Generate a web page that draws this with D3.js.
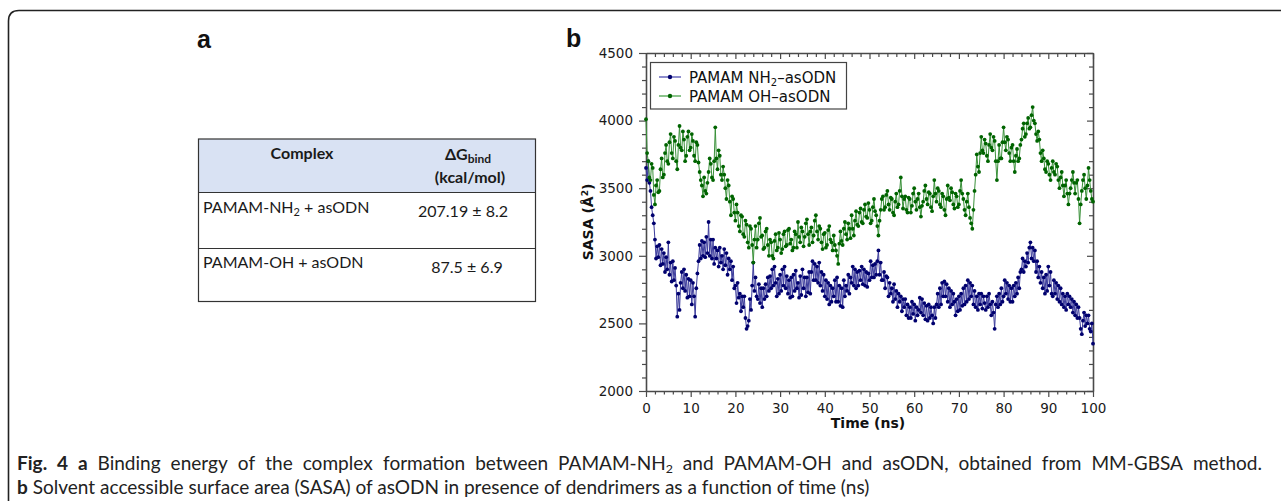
<!DOCTYPE html>
<html><head><meta charset="utf-8">
<script src="https://cdn.jsdelivr.net/npm/d3@7"></script>
<style>html,body{margin:0;padding:0;background:#fff;overflow:hidden}</style>
</head><body>
<svg id="c" width="1281" height="501" xmlns="http://www.w3.org/2000/svg"></svg>
<script>
// ---------------- data ----------------
const xTicks = [0, 10, 20, 30, 40, 50, 60, 70, 80, 90, 100];
const yTicks = [2000, 2500, 3000, 3500, 4000, 4500];
const seriesNames = ["PAMAM NH", "PAMAM OH–asODN"];
const timeStep = 0.25; // ns between plotted frames
// SASA (Å²) of asODN with PAMAM-NH2, every 0.25 ns from 0 to 100 ns (one row of 4 per ns)
const sasaNH2 = [
3650,3560,3700,3540, 3480,3360,3300,3240, 3120,2980,3070,2990, 3080,2930,3050,2940, 3020,2880,2990,2900,
3100,2860,2950,2810, 2960,2820,2910,2780, 2550,2720,2600,2800, 2880,2760,2900,2740, 2860,2690,2830,2700,
2820,2640,2800,2700, 2550,2760,2870,2960, 3080,2980,3110,3000, 3100,2990,3140,3020, 3250,3000,3120,2980,
3120,2940,3060,2980, 3040,2920,3060,2950, 3000,2900,3050,2930, 3020,2860,2980,2900, 2960,2820,2920,2760,
2780,2650,2800,2690, 2720,2590,2700,2620, 2700,2540,2460,2480, 2520,2680,2600,2780, 2950,2740,2840,2700,
2680,2790,2650,2760, 2620,2760,2680,2790, 2700,2840,2740,2850, 2760,2900,2780,2920, 2800,2700,2830,2720,
2860,2740,2900,2780, 2920,2760,2850,2720, 2820,2690,2840,2700, 2860,2740,2890,2760, 2800,2690,2850,2710,
2900,2760,2840,2700, 2840,2730,2880,2720, 2880,2960,2820,2940, 2820,2920,2800,2950, 2780,2880,2740,2860,
2700,2820,2680,2800, 2640,2780,2660,2760, 2700,2820,2660,2840, 2660,2780,2630,2760, 2620,2820,2700,2780,
2740,2860,2720,2840, 2800,2920,2780,2900, 2760,2880,2780,2890, 2820,2920,2790,2900, 2780,2880,2770,2870,
2820,2960,2840,2930, 2840,2940,2860,2960, 3040,2860,2950,2820, 2820,2880,2760,2850, 2840,2700,2800,2720,
2760,2660,2790,2680, 2740,2620,2720,2660, 2700,2590,2680,2620, 2680,2560,2640,2540, 2620,2540,2660,2570,
2640,2520,2620,2560, 2600,2690,2580,2680, 2560,2650,2530,2630, 2520,2640,2540,2620, 2560,2500,2620,2540,
2640,2720,2620,2760, 2640,2800,2700,2810, 2700,2790,2660,2760, 2620,2740,2640,2720, 2660,2560,2680,2590,
2700,2600,2720,2630, 2760,2640,2780,2660, 2820,2680,2800,2700, 2780,2640,2740,2620, 2700,2600,2720,2640,
2720,2610,2700,2650, 2600,2700,2620,2720, 2640,2560,2660,2580, 2460,2640,2700,2620, 2720,2640,2760,2660,
2700,2820,2720,2800, 2680,2780,2660,2760, 2660,2780,2700,2800, 2720,2840,2760,2880, 2900,2980,2880,2960,
2920,3020,2950,3060, 3100,2980,3060,2960, 3040,2880,2960,2840, 2920,2800,2880,2760, 2840,2720,2860,2740,
2920,2780,2880,2720, 2700,2820,2720,2800, 2680,2780,2660,2760, 2640,2720,2620,2700, 2600,2720,2640,2700,
2620,2680,2580,2660, 2560,2640,2540,2620, 2540,2460,2420,2520, 2580,2480,2560,2500, 2560,2460,2440,2500,
2350];
// SASA (Å²) of asODN with PAMAM-OH, every 0.25 ns from 0 to 100 ns (one row of 4 per ns)
const sasaOH = [
4010,3760,3700,3580, 3560,3680,3650,3450, 3380,3520,3560,3470, 3480,3640,3720,3580, 3600,3760,3820,3700,
3680,3840,3900,3760, 3720,3880,3850,3700, 3640,3820,3960,3800, 3780,3920,3860,3700, 3740,3880,3920,3780,
3800,3900,3850,3740, 3700,3840,3820,3690, 3620,3560,3520,3440, 3580,3480,3460,3540, 3620,3720,3680,3580,
3560,3700,3950,3720, 3640,3780,3740,3600, 3560,3660,3600,3500, 3420,3560,3520,3400, 3300,3440,3420,3320,
3260,3380,3320,3220, 3180,3300,3290,3160, 3140,3260,3230,3100, 3060,3220,3200,3080, 2950,3120,3220,3060,
3120,3240,3280,3140, 3150,3050,3060,3180, 3200,3080,3000,3120, 3100,3000,2980,3110, 3160,3040,3060,3170,
3120,3020,3050,3160, 3180,3070,3080,3190, 3200,3090,3120,3040, 3060,3180,3160,3060, 3250,3140,3100,3210,
3180,3070,3140,3240, 3270,3160,3080,3180, 3210,3100,3150,3260, 3300,3180,3120,3220, 3200,3100,3050,3160,
3170,3060,3080,3190, 3220,3120,3100,3040, 3150,3080,3040,3000, 2940,3090,3180,3110, 3080,3200,3250,3160,
3120,3240,3200,3130, 3300,3200,3150,3260, 3330,3230,3220,3320, 3350,3250,3240,3340, 3380,3290,3280,3390,
3340,3240,3260,3360, 3420,3330,3300,3220, 3150,3260,3340,3420, 3440,3340,3360,3450, 3480,3380,3340,3430,
3420,3320,3300,3400, 3460,3360,3380,3480, 3580,3440,3350,3420, 3440,3340,3320,3430, 3420,3320,3370,3460,
3500,3400,3340,3420, 3460,3360,3290,3370, 3400,3480,3520,3420, 3380,3470,3460,3360, 3330,3440,3560,3460,
3400,3500,3480,3380, 3360,3460,3440,3340, 3300,3420,3520,3430, 3410,3500,3470,3380, 3350,3460,3440,3360,
3380,3480,3560,3460, 3420,3340,3300,3400, 3460,3360,3280,3240, 3200,3340,3480,3600, 3750,3660,3620,3760,
3880,3780,3760,3860, 3830,3740,3700,3820, 3900,3800,3780,3880, 3850,3700,3560,3700, 3820,3720,3720,3840,
3950,3840,3780,3880, 3860,3760,3700,3800, 3820,3700,3620,3740, 3790,3700,3720,3820, 3860,3940,3980,3880,
3900,3980,4020,3940, 3950,4040,4100,4000, 3980,3900,3850,3920, 3860,3760,3700,3780, 3720,3640,3620,3700,
3680,3600,3560,3650, 3700,3620,3600,3680, 3660,3560,3500,3580, 3620,3520,3440,3520, 3560,3460,3380,3460,
3500,3560,3620,3540, 3460,3540,3560,3420, 3240,3380,3480,3560, 3600,3500,3420,3520, 3650,3560,3480,3420,
3400];
const tableHeads = ["Complex", "ΔG", "bind", "(kcal/mol)"];
const tableComplexes = [["PAMAM-NH", "2", " + asODN"], ["PAMAM-OH + asODN"]];
const tableDeltaG = ["207.19 ± 8.2", "87.5 ± 6.9"];

// ---------------- drawing ----------------
const svg = d3.select("#c");
const AX = "#4a4a4a";
const FONT = "'DejaVu Sans', Verdana, sans-serif";
const TFONT = "Lato, 'Open Sans', sans-serif";

// outer rounded frame (open to the right and bottom)
svg.append("path")
  .attr("d", "M8.5,520 L8.5,21 Q8.5,10.5 19,10.5 L1300,10.5")
  .attr("fill", "none").attr("stroke", "#222").attr("stroke-width", 1.6);

// panel letters
svg.append("text").attr("x", 197).attr("y", 48).text("a")
  .attr("font-family", "'Liberation Sans', Arial, sans-serif").attr("font-weight", "bold").attr("font-size", 25).attr("fill", "#111");
svg.append("text").attr("x", 566).attr("y", 47).text("b")
  .attr("font-family", "'Liberation Sans', Arial, sans-serif").attr("font-weight", "bold").attr("font-size", 25).attr("fill", "#111");

// ---------- table (panel a) ----------
const T = {x0: 198.5, x1: 535.5, y0: 139, yh: 192.5, y1: 248.5, y2: 301.5};
svg.append("rect").attr("x", T.x0).attr("y", T.y0).attr("width", T.x1 - T.x0).attr("height", T.yh - T.y0)
  .attr("fill", "#d9e2f3");
svg.append("rect").attr("x", T.x0).attr("y", T.y0).attr("width", T.x1 - T.x0).attr("height", T.y2 - T.y0)
  .attr("fill", "none").attr("stroke", "#333").attr("stroke-width", 1.2);
[T.yh, T.y1].forEach(yy => svg.append("line").attr("x1", T.x0).attr("x2", T.x1).attr("y1", yy).attr("y2", yy)
  .attr("stroke", "#333").attr("stroke-width", 1.2));
const tg = svg.append("g").attr("font-family", TFONT).attr("font-size", 16).attr("fill", "#1a1a1a");
tg.append("text").attr("x", 302).attr("y", 159).attr("text-anchor", "middle").attr("font-weight", "bold").text(tableHeads[0]);
const dg = tg.append("text").attr("x", 468).attr("y", 160).attr("text-anchor", "middle").attr("font-weight", "bold");
dg.append("tspan").text(tableHeads[1]);
dg.append("tspan").attr("font-size", 12).attr("dy", 3).text(tableHeads[2]);
tg.append("text").attr("x", 470).attr("y", 183).attr("text-anchor", "middle").attr("font-weight", "bold").text(tableHeads[3]);
const rowBase = [213, 268], valBase = [217, 273], valX = [463, 467];
tableComplexes.forEach((parts, i) => {
  const t = tg.append("text").attr("x", 203).attr("y", rowBase[i]);
  parts.forEach((p, j) => {
    const ts = t.append("tspan").text(p);
    if (parts.length > 1 && j === 1) ts.attr("font-size", 11).attr("dy", 3);
    if (parts.length > 1 && j === 2) ts.attr("dy", -3);
  });
  tg.append("text").attr("x", valX[i]).attr("y", valBase[i]).attr("text-anchor", "middle").text(tableDeltaG[i]);
});

// ---------- chart (panel b) ----------
const x = d3.scaleLinear().domain([0, 100]).range([646, 1093]);
const y = d3.scaleLinear().domain([2000, 4500]).range([391, 53]);
const xMinor = d3.range(0, 101, 2).filter(v => v % 10 !== 0);
const yMinor = d3.range(2000, 4501, 100).filter(v => v % 500 !== 0);

function styleAxis(g) {
  g.select(".domain").attr("stroke", AX).attr("stroke-width", 1.6);
  g.selectAll(".tick line").attr("stroke", AX).attr("stroke-width", 1.2);
  g.selectAll(".tick text").attr("font-family", FONT).attr("font-size", 13.5).attr("fill", "#1a1a1a");
  return g;
}
function addAxis(axis, tf, noDomain) {
  const g = svg.append("g").attr("transform", tf).call(axis);
  styleAxis(g);
  if (noDomain) g.select(".domain").remove();
  return g;
}
const fmt = d3.format("d");
// bottom
addAxis(d3.axisBottom(x).tickValues(xTicks).tickFormat(fmt).tickSize(6).tickPadding(6).tickSizeOuter(0), "translate(0,391)");
addAxis(d3.axisBottom(x).tickValues(xMinor).tickSize(3.5).tickFormat("").tickSizeOuter(0), "translate(0,391)", true);
// left
addAxis(d3.axisLeft(y).tickValues(yTicks).tickFormat(fmt).tickSize(7).tickPadding(6).tickSizeOuter(0), "translate(646,0)");
addAxis(d3.axisLeft(y).tickValues(yMinor).tickSize(4).tickFormat("").tickSizeOuter(0), "translate(646,0)", true);
// top (inward)
addAxis(d3.axisTop(x).tickValues(xTicks).tickSize(-6).tickFormat("").tickSizeOuter(0), "translate(0,53)");
addAxis(d3.axisTop(x).tickValues(xMinor).tickSize(-4).tickFormat("").tickSizeOuter(0), "translate(0,53)", true);
// right (inward)
addAxis(d3.axisRight(y).tickValues(yTicks).tickSize(-6).tickFormat("").tickSizeOuter(0), "translate(1093,0)");
addAxis(d3.axisRight(y).tickValues(yMinor).tickSize(-4).tickFormat("").tickSizeOuter(0), "translate(1093,0)", true);

// axis titles
svg.append("text").attr("x", 868).attr("y", 428).attr("text-anchor", "middle")
  .attr("font-family", FONT).attr("font-weight", "bold").attr("font-size", 14).attr("fill", "#111").text("Time (ns)");
const yt = svg.append("text").attr("transform", "translate(593,222) rotate(-90)").attr("text-anchor", "middle")
  .attr("font-family", FONT).attr("font-weight", "bold").attr("font-size", 14).attr("fill", "#111");
yt.append("tspan").text("SASA (Å");
yt.append("tspan").attr("font-size", 9).attr("dy", -5).text("2");
yt.append("tspan").attr("dy", 5).text(")");

// series
const series = [
  {vals: sasaNH2, line: "#3c3c9c", dot: "#00006e"},
  {vals: sasaOH, line: "#3a913a", dot: "#006400"}
];
const lineGen = d3.line().x((d, i) => x(i * timeStep)).y(d => y(d));
series.forEach(s => {
  const g = svg.append("g");
  g.append("path").attr("d", lineGen(s.vals)).attr("fill", "none").attr("stroke", s.line).attr("stroke-width", 1);
  g.selectAll("circle").data(s.vals).join("circle")
    .attr("cx", (d, i) => x(i * timeStep)).attr("cy", d => y(d)).attr("r", 1.9).attr("fill", s.dot);
});

// legend
const lg = svg.append("g");
lg.append("rect").attr("x", 650.5).attr("y", 62.5).attr("width", 196).attr("height", 46.5)
  .attr("fill", "#fff").attr("stroke", "#444").attr("stroke-width", 1.2);
[{yy: 77, c: series[0]}, {yy: 96, c: series[1]}].forEach((e, i) => {
  lg.append("line").attr("x1", 659).attr("x2", 681).attr("y1", e.yy).attr("y2", e.yy)
    .attr("stroke", i === 0 ? "#5050b0" : "#4ca24c").attr("stroke-width", 1.3);
  lg.append("circle").attr("cx", 670).attr("cy", e.yy).attr("r", 2.2).attr("fill", e.c.dot);
  const t = lg.append("text").attr("x", 689).attr("y", e.yy + 5.5)
    .attr("font-family", FONT).attr("font-size", 15).attr("fill", "#111");
  if (i === 0) {
    t.append("tspan").text(seriesNames[0]);
    t.append("tspan").attr("font-size", 10).attr("dy", 3).text("2");
    t.append("tspan").attr("dy", -3).text("–asODN");
  } else t.text(seriesNames[1]);
});

// ---------- caption ----------
const CF = "Lato, 'Open Sans', sans-serif";
const line1 = [
  [["Fig.", "b"]], [["4", "b"]], [["a", "b"]], [["Binding"]], [["energy"]], [["of"]], [["the"]], [["complex"]],
  [["formation"]], [["between"]], [["PAMAM-NH"], ["2", "sub"]], [["and"]], [["PAMAM-OH"]], [["and"]],
  [["asODN,"]], [["obtained"]], [["from"]], [["MM-GBSA"]], [["method."]]
];
const line2Text = "Solvent accessible surface area (SASA) of asODN in presence of dendrimers as a function of time (ns)";
const cg = svg.append("g").attr("font-family", CF).attr("fill", "#222");
const probe = cg.append("text").attr("font-size", 17);
probe.append("tspan").attr("font-weight", "bold").text("b");
probe.append("tspan").text(" " + line2Text);
const w2 = probe.node().getComputedTextLength();
const fs = 17 * 853 / w2;
probe.remove();
const l2 = cg.append("text").attr("x", 17).attr("y", 494).attr("font-size", fs);
l2.append("tspan").attr("font-weight", "bold").text("b");
l2.append("tspan").text(" " + line2Text);
const words = line1.map(word => {
  const t = cg.append("text").attr("y", 470).attr("font-size", fs);
  word.forEach(([txt, st]) => {
    const ts = t.append("tspan").text(txt);
    if (st === "b") ts.attr("font-weight", "bold");
    if (st === "sub") ts.attr("font-size", fs * 0.65).attr("dy", 3);
  });
  return {t, w: t.node().getBBox().width};
});
const total = d3.sum(words, d => d.w);
const gap = (1262 - 17 - total) / (words.length - 1);
let cx = 17;
words.forEach(d => { d.t.attr("x", cx); cx += d.w + gap; });
</script>
</body></html>
